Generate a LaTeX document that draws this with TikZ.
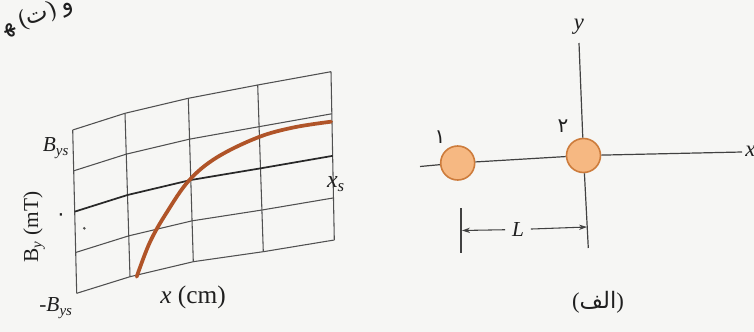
\documentclass[tikz,border=0pt]{standalone}
\usepackage{fontspec}
\setmainfont{Liberation Serif}
\newfontfamily\arabicfont[Script=Arabic]{DejaVu Sans}
\TeXXeTstate=1
\usetikzlibrary{calc,arrows.meta}
\definecolor{bg}{RGB}{246,246,244}
\definecolor{gridc}{RGB}{80,80,80}
\definecolor{axisc}{RGB}{40,40,40}
\definecolor{curvec}{RGB}{176,84,40}
\definecolor{ballfill}{RGB}{246,184,130}
\definecolor{balledge}{RGB}{205,124,60}
\definecolor{linec}{RGB}{65,65,65}
\newcommand{\arw}[1]{{\arabicfont\beginR #1\endR}}
\begin{document}
\begin{tikzpicture}[x=0.75pt,y=-0.75pt,
  gridline/.style={draw=gridc,line width=0.8pt},
  axisline/.style={draw=axisc,line width=1.3pt},
  curveline/.style={draw=curvec,line width=2.8pt,line cap=round},
  ball/.style={circle,draw=balledge,line width=1.2pt,fill=ballfill,minimum size=25.5pt,inner sep=0pt},
  lbl/.style={inner sep=0pt,text=black!88,font=\fontsize{16}{18}\selectfont},
  fa/.style={inner sep=0pt,text=black!88,font=\arabicfont\fontsize{15}{17}\selectfont},
  dimarrow/.style={draw=linec,line width=0.8pt,-{Stealth[length=6pt,width=4pt]}},
  axline/.style={draw=linec,line width=0.9pt}]
\fill[bg] (0,0) rectangle (754,332);
\useasboundingbox (0,0) rectangle (754,332);

% ---------- left graph: skewed grid ----------
\coordinate (t0) at (72.7,130);   \coordinate (b0) at (76.7,293.3);
\coordinate (t1) at (125,113.3);  \coordinate (b1) at (130,276.7);
\coordinate (t2) at (188.3,98.3); \coordinate (b2) at (193.3,261.7);
\coordinate (t3) at (257.7,85);   \coordinate (b3) at (263.3,251.7);
\coordinate (t4) at (331,71.7);   \coordinate (b4) at (334.3,240);
\foreach \i in {0,...,4} {\draw[gridline] (t\i) -- (b\i);}
\foreach \j in {0,1,3,4} {
  \draw[gridline] ($(t0)!\j/4!(b0)$) -- ($(t1)!\j/4!(b1)$) -- ($(t2)!\j/4!(b2)$)
     -- ($(t3)!\j/4!(b3)$) -- ($(t4)!\j/4!(b4)$);
}
\draw[axisline] ($(t0)!0.5!(b0)$) -- ($(t1)!0.5!(b1)$) -- ($(t2)!0.5!(b2)$)
     -- ($(t3)!0.5!(b3)$) -- ($(t4)!0.5!(b4)$);

\draw[curveline] plot[smooth,tension=0.6] coordinates
  {(136.7,276.7) (150,242) (166.7,212.5) (189,180.5) (216.7,157.5) (257.7,137.5) (293.3,127.5) (331,121.7)};

\node[lbl] (bys) at (56,148) {\textit{B}\textsubscript{\textit{ys}}};
\node[lbl] (mbys) at (56,308) {-\textit{B}\textsubscript{\textit{ys}}};
\node[fa] (zero) at (61,217) {۰};
\node[circle,fill=black!70,inner sep=0pt,minimum size=2.2pt] (speck) at (84.3,228.3) {};
\node[lbl,rotate=90] (byl) at (34,227) {B\textsubscript{\textit{y}} (mT)};
\node[lbl,font=\fontsize{19}{21}\selectfont] (xcm) at (193,297) {\textit{x} (cm)};
\node[lbl,font=\fontsize{18}{20}\selectfont] (xs) at (336,184) {\textit{x}\textsubscript{\textit{s}}};
\node[lbl,rotate=20,font=\fontsize{18}{20}\selectfont] (frag) at (38,16)
  {\arw{ﻬ} (\arw{ت}) \arw{و}};

% ---------- right figure ----------
\node[ball] (c1) at (457.7,163) {};
\node[ball] (c2) at (583.5,155.5) {};
\coordinate (xl) at (420,166.5);
\coordinate (xr) at (742,152);
\coordinate (yt) at (579,43);
\coordinate (yb) at (588.3,248);
\draw[axline] (xl) -- (c1);
\draw[axline] (c1) -- (c2);
\draw[axline] (c2) -- (xr);
\draw[axline] (yt) -- (c2);
\draw[axline] (c2) -- (yb);

\node[lbl,font=\fontsize{17}{19}\selectfont] (ylab) at (579,27) {\textit{y}};
\node[lbl,anchor=west,font=\fontsize{17}{19}\selectfont] (xlab) at (745,151) {\textit{x}};
\node[fa] (n1) at (440,137) {۱};
\node[fa] (n2) at (563,126) {۲};

\coordinate (tkt) at (461,208);
\coordinate (tkb) at (461,253);
\draw[axline] (tkt) -- (tkb);
\coordinate (da) at (462,230.5);
\coordinate (db) at (587,227);
\node[lbl,inner sep=5pt] (L) at (518,229.5) {\textit{L}};
\draw[dimarrow] (L) -- (da);
\draw[dimarrow] (L) -- (db);

\node[lbl,font=\fontsize{17}{19}\selectfont] (alef) at (598,302) {(\arw{الف})};
\end{tikzpicture}
\end{document}
